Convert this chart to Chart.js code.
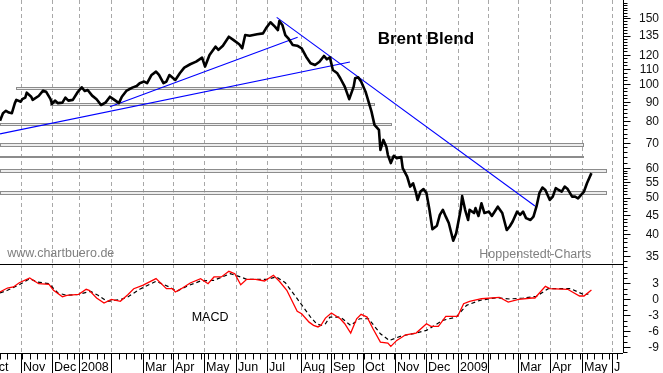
<!DOCTYPE html>
<html>
<head>
<meta charset="utf-8">
<script src="https://cdn.jsdelivr.net/npm/chart.js@4.4.0/dist/chart.umd.min.js"></script>
<style>
body { margin: 0; background: #fff; }
#wrap { position: relative; width: 663px; height: 373px; overflow: hidden; background: #fff; }
canvas { position: absolute; left: 0; }
</style>
</head>
<body>
<div id="wrap">
  <canvas id="price" width="663" height="264" style="top:0"></canvas>
  <canvas id="macd" width="663" height="109" style="top:264px"></canvas>
</div>
<script>
// x values are trading sessions counted from the first bar (mid Oct 2007)
const X_MAX = 419.25;

// first session of each month and its axis label
const monthStarts = [-9, 13.9, 34.8, 53.4, 74.7, 96.0, 116.2, 137.5, 158.6, 179.5, 202.6, 222.7,
                     244.5, 265.8, 286.5, 308.4, 328.6, 348.8, 370.1, 391.9, 411.6];
const monthLabels = ['Oct', 'Nov', 'Dec', '2008', '', 'Mar', 'Apr', 'May', 'Jun', 'Jul', 'Aug', 'Sep',
                     'Oct', 'Nov', 'Dec', '2009', '', 'Mar', 'Apr', 'May', 'J'];

// Brent closing prices (USD)
const priceDays = [0,2,4,6,8,10,11,14,15,17,18,21,22,26,29,31,34,35,37,39,
  42,44,46,49,52,55,57,59,62,65,68,71,74,77,80,82,85,89,92,94,
  97,99,102,105,107,110,112,114,118,121,124,128,132,136,138,141,145,147,150,154,
  157,161,163,165,168,173,177,179,182,185,187,188,190,192,194,197,200,203,206,209,
  212,215,218,220,222,224,227,229,232,235,238,239,241,243,246,249,250,252,255,256,
  258,260,261,263,265,267,270,271,274,276,278,280,281,283,285,287,289,291,294,296,
  298,300,302,305,307,310,311,313,315,316,319,320,322,324,326,329,331,335,338,341,
  343,345,348,350,352,354,357,359,361,363,365,367,370,372,374,376,378,380,382,385,
  387,389,393,395,398];
const priceVals = [80.1,83.9,85.1,84.2,83.9,89.2,91.0,90.0,91.4,92.3,95.1,92.8,91.0,93.2,96.3,95.7,91.4,88.8,90.6,89.2,
  89.5,92.3,90.6,91.0,95.1,98.3,96.1,96.7,93.4,91.4,88.2,89.5,92.8,91.0,89.2,92.8,96.1,98.1,99.1,100.8,
  101.8,100.8,106.0,108.2,106.0,100.8,101.8,106.0,102.8,107.1,110.9,113.2,115.0,117.9,111.6,119.8,126.1,123.6,126.8,134.0,
  131.4,127.9,124.8,135.4,134.8,136.0,136.8,141.1,146.4,142.5,139.6,147.5,144.0,135.4,132.7,127.4,126.8,124.8,118.6,113.9,
  112.7,115.0,119.1,116.7,118.1,109.3,107.1,103.9,98.7,91.4,98.7,103.9,104.5,101.8,95.7,87.3,84.7,78.1,75.7,67.0,
  71.2,68.3,65.0,61.8,64.6,63.7,64.1,59.9,56.9,53.5,54.6,51.4,49.3,51.9,52.7,51.4,46.4,41.2,42.1,45.0,
  46.4,44.5,42.8,38.4,40.2,46.4,50.5,46.4,43.6,46.4,45.5,46.9,44.7,48.3,45.5,45.9,44.7,47.3,45.5,41.0,
  41.9,43.2,45.9,45.0,45.9,44.1,43.6,44.5,47.3,51.4,53.2,52.4,49.3,50.3,53.0,52.4,51.9,53.5,52.7,50.3,
  50.3,49.8,51.9,54.6,58.1];

// MACD line and its signal line
const macdDays = [0,5,9,13,20,26,33,36,42,45,53,58,60,65,70,75,81,86,90,96,
  105,112,116,118,122,128,135,140,144,149,154,158,162,166,172,178,184,188,193,200,
  203,208,211,214,216,219,223,229,232,236,240,243,247,251,256,261,263,267,273,280,
  287,290,295,300,308,312,316,324,336,342,349,358,360,367,370,382,390,393,398];
const macdVals = [1.38,2.13,2.32,3.13,4.02,2.94,2.83,1.70,0.49,0.75,0.94,1.89,1.70,0.25,-0.70,0,-0.38,0.87,2.0,2.64,
  3.89,2.0,2.0,1.38,2.0,3.08,3.89,2.94,4.21,4.21,5.28,4.83,2.75,3.77,3.77,3.45,4.53,3.40,1.70,-2.26,
  -2.72,-4.3,-4.9,-5.2,-4.9,-3.53,-2.58,-3.66,-4.6,-6.36,-3.66,-2.83,-3.34,-5.55,-8.06,-8.25,-8.87,-7.74,-6.68,-6.36,
  -4.6,-5.09,-5.09,-3.21,-3.21,-0.83,-0.38,0.11,0.38,-0.51,0,0.25,0.25,2.45,2.0,1.89,0.62,0.62,1.75];
const signalDays = [0,5,13,20,25,33,39,45,53,61,66,72,81,86,94,105,114,119,126,135,
  144,155,162,166,180,186,192,200,209,213,216,219,222,229,236,242,248,256,262,270,
  280,287,298,307,314,323,334,343,352,361,369,384,393,396];
const signalVals = [1.2,1.7,2.75,3.89,3.26,2.94,1.19,0.75,0.94,1.51,0.75,-0.38,-0.06,0.44,1.89,3.40,2.32,1.51,2.51,3.45,
  3.58,4.83,4.21,3.77,3.77,4.21,3.13,0.11,-3.34,-4.6,-4.9,-4.6,-3.34,-3.34,-4.91,-3.66,-3.66,-6.49,-7.74,-6.92,
  -6.36,-5.85,-3.96,-3.34,-1.13,-0.19,0.30,0.06,0.25,0.57,2.0,2.0,0.87,1.0];

// support / resistance zones
const bandStart = [10.6, 33.6, 0, 0, 0, 0, 0];
const bandEnd   = [243, 252, 263, 392.5, 392, 407.6, 407.6];
const bandLow   = [97.1, 88.2, 77.9, 68.8, 64.2, 58.4, 51.0];
const bandHigh  = [98.3, 89.5, 78.9, 69.9, 64.6, 59.6, 52.0];

// trend lines: start session/price, end session/price
const trendStart    = [0, 74, 186.2];
const trendStartVal = [73.9, 87.3, 150.9];
const trendEnd      = [235.5, 200.3, 360];
const trendEndVal   = [114.8, 133.5, 47.5];

// axis labels
const priceTicks = [35, 40, 45, 50, 55, 60, 70, 80, 90, 100, 110, 120, 135, 150];
const macdTicks = [3, 0, -3, -6, -9];

Chart.defaults.font.family = '"Liberation Sans", Arial, sans-serif';

const FONT = '"Liberation Sans", Arial, sans-serif';

const monthGrid = {
  id: 'monthGrid',
  beforeDatasetsDraw(chart) {
    const { ctx, chartArea: a, scales: { x } } = chart;
    ctx.save();
    ctx.strokeStyle = '#a8a8a8';
    ctx.lineWidth = 1;
    ctx.setLineDash([4, 3]);
    monthStarts.forEach(m => {
      const px = Math.round(x.getPixelForValue(m)) + 0.5;
      if (px < a.left || px > a.right) return;
      ctx.beginPath();
      ctx.moveTo(px, a.top);
      ctx.lineTo(px, a.bottom);
      ctx.stroke();
    });
    ctx.restore();
  }
};

const bandsPlugin = {
  id: 'bands',
  beforeDatasetsDraw(chart) {
    const { ctx, scales: { x, y } } = chart;
    ctx.save();
    ctx.strokeStyle = '#8c8c8c';
    ctx.fillStyle = 'rgba(225,225,225,0.6)';
    ctx.lineWidth = 1;
    bandStart.forEach((s, i) => {
      const x0 = Math.round(x.getPixelForValue(s));
      const x1 = Math.round(x.getPixelForValue(bandEnd[i]));
      const yTop = Math.round(y.getPixelForValue(bandHigh[i]));
      const yBot = Math.round(y.getPixelForValue(bandLow[i]));
      const h = Math.max(1, yBot - yTop);
      ctx.fillRect(x0, yTop, x1 - x0, h);
      ctx.strokeRect(x0 + 0.5, yTop + 0.5, x1 - x0, h);
    });
    ctx.restore();
  }
};

function rightAxis(majors, minors, fmt) {
  return {
    id: 'rightAxis',
    afterDraw(chart) {
      const { ctx, chartArea: a, scales: { y } } = chart;
      const ax = Math.round(a.right) + 0.5;
      ctx.save();
      ctx.strokeStyle = '#000';
      ctx.lineWidth = 1;
      ctx.beginPath();
      ctx.moveTo(ax, a.top);
      ctx.lineTo(ax, a.bottom);
      minors.forEach(v => {
        const py = Math.round(y.getPixelForValue(v)) + 0.5;
        if (py < a.top || py > a.bottom) return;
        ctx.moveTo(ax, py);
        ctx.lineTo(ax + 4, py);
      });
      majors.forEach(v => {
        const py = Math.round(y.getPixelForValue(v)) + 0.5;
        ctx.moveTo(ax, py);
        ctx.lineTo(ax + 7, py);
      });
      ctx.stroke();
      ctx.fillStyle = '#111';
      ctx.font = '12px ' + FONT;
      ctx.textAlign = 'right';
      ctx.textBaseline = 'middle';
      majors.forEach(v => ctx.fillText(fmt(v), 659, y.getPixelForValue(v) + 0.5));
      ctx.restore();
    }
  };
}

const priceMinors = [];
for (let v = 34; v <= 60; v += 1) priceMinors.push(v);
for (let v = 62; v <= 100; v += 2) priceMinors.push(v);
for (let v = 102.5; v <= 167; v += 2.5) priceMinors.push(v);

const macdMinors = [];
for (let v = -10; v <= 6; v += 1) macdMinors.push(v);

const priceTexts = {
  id: 'priceTexts',
  afterDraw(chart) {
    const { ctx } = chart;
    ctx.save();
    ctx.textAlign = 'left';
    ctx.textBaseline = 'alphabetic';
    ctx.fillStyle = '#000';
    ctx.font = 'bold 17px ' + FONT;
    ctx.fillText('Brent Blend', 377.7, 44);
    ctx.fillStyle = '#808080';
    ctx.font = '12.5px ' + FONT;
    ctx.fillText('www.chartbuero.de', 7.3, 257);
    ctx.fillText('Hoppenstedt-Charts', 479.3, 257.7);
    ctx.restore();
  }
};

const timeAxis = {
  id: 'timeAxis',
  afterDraw(chart) {
    const { ctx, chartArea: a, scales: { x } } = chart;
    const base = Math.round(a.bottom) + 0.5;
    const h = chart.height;
    ctx.save();
    ctx.strokeStyle = '#000';
    ctx.lineWidth = 1;
    ctx.beginPath();
    ctx.moveTo(0, 0.5);
    ctx.lineTo(a.right, 0.5);
    ctx.moveTo(0, base);
    ctx.lineTo(a.right, base);
    for (let s = 0; s < X_MAX; s += 5) {
      const px = Math.round(x.getPixelForValue(s)) + 0.5;
      ctx.moveTo(px, base);
      ctx.lineTo(px, base + 6);
    }
    monthStarts.forEach(m => {
      const px = Math.round(x.getPixelForValue(m)) + 0.5;
      if (px < 0 || px > a.right) return;
      ctx.moveTo(px, base);
      ctx.lineTo(px, h);
    });
    ctx.stroke();
    ctx.beginPath();
    ctx.rect(0, base, a.right - 1, h - base);
    ctx.clip();
    ctx.fillStyle = '#000';
    ctx.font = '12.5px ' + FONT;
    ctx.textAlign = 'left';
    ctx.textBaseline = 'alphabetic';
    monthStarts.forEach((m, i) => {
      ctx.fillText(monthLabels[i], Math.round(x.getPixelForValue(m)) + 2, h - 2.3);
    });
    ctx.restore();
    ctx.save();
    ctx.fillStyle = '#000';
    ctx.font = '12.5px ' + FONT;
    ctx.fillText('MACD', 191.7, 57.3);
    ctx.restore();
  }
};

const baseOptions = {
  responsive: false,
  animation: false,
  events: [],
  plugins: { legend: { display: false }, tooltip: { enabled: false } },
  elements: { point: { radius: 0 }, line: { tension: 0 } }
};

new Chart(document.getElementById('price'), {
  type: 'line',
  data: {
    datasets: [
      {
        data: priceDays.map((d, i) => ({ x: d, y: priceVals[i] })),
        borderColor: '#000',
        borderWidth: 2.6,
        borderJoinStyle: 'round'
      },
      ...trendStart.map((s, i) => ({
        data: [{ x: s, y: trendStartVal[i] }, { x: trendEnd[i], y: trendEndVal[i] }],
        borderColor: '#0000ff',
        borderWidth: 1.1
      }))
    ]
  },
  options: {
    ...baseOptions,
    layout: { padding: { right: 40 } },
    scales: {
      x: { type: 'linear', display: false, min: 0, max: X_MAX },
      y: { type: 'logarithmic', display: false, min: 33.3, max: 167.8 }
    }
  },
  plugins: [monthGrid, bandsPlugin, rightAxis(priceTicks, priceMinors, v => String(v)), priceTexts]
});

new Chart(document.getElementById('macd'), {
  type: 'line',
  data: {
    datasets: [
      {
        data: macdDays.map((d, i) => ({ x: d, y: macdVals[i] })),
        borderColor: '#ff0000',
        borderWidth: 1.3
      },
      {
        data: signalDays.map((d, i) => ({ x: d, y: signalVals[i] })),
        borderColor: '#000',
        borderWidth: 1.2,
        borderDash: [4, 3]
      }
    ]
  },
  options: {
    ...baseOptions,
    layout: { padding: { right: 40, bottom: 20 } },
    scales: {
      x: { type: 'linear', display: false, min: 0, max: X_MAX },
      y: { type: 'linear', display: false, min: -10.11, max: 6.65 }
    }
  },
  plugins: [monthGrid, rightAxis(macdTicks, macdMinors, v => String(v)), timeAxis]
});
</script>
</body>
</html>
